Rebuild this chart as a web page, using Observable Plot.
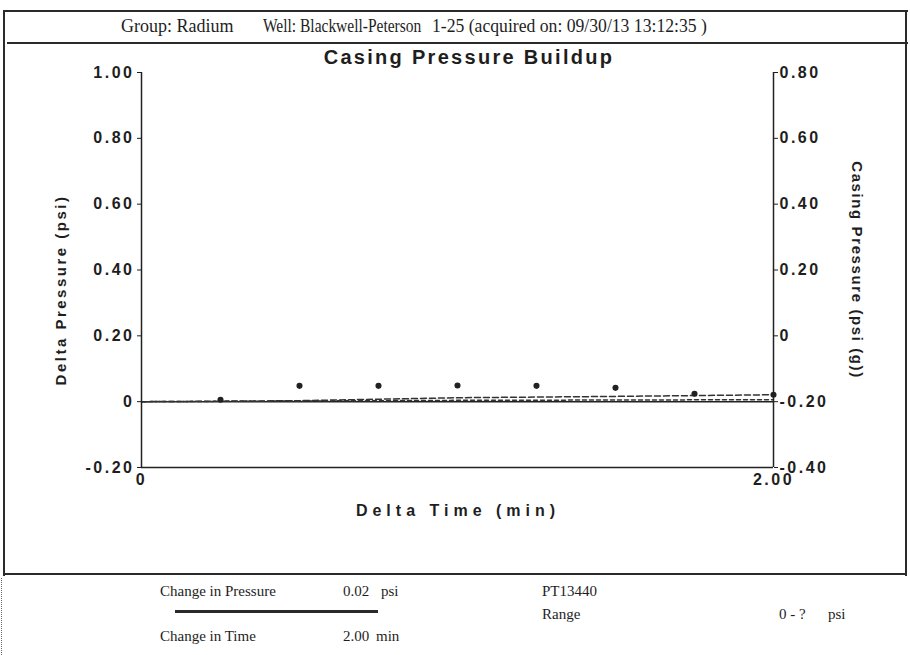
<!DOCTYPE html>
<html><head><meta charset="utf-8">
<script src="https://cdn.jsdelivr.net/npm/d3@7"></script>
<script src="https://cdn.jsdelivr.net/npm/@observablehq/plot@0.6"></script>
<style>
body{margin:0;background:#fff;}
#page{position:relative;width:910px;height:655px;overflow:hidden;background:#fff;color:#1e1e1e;}
.ln{position:absolute;background:#2a2a2a;}
.serif{position:absolute;font-family:"Liberation Serif","Times New Roman",serif;white-space:nowrap;line-height:1;color:#1e1e1e;transform-origin:0 50%;}
.sans{position:absolute;font-family:"Liberation Sans",Arial,sans-serif;font-weight:bold;white-space:nowrap;line-height:1;color:#1e1e1e;}
#chart{position:absolute;left:0;top:0;}
</style></head><body>
<div id="page">
  <div id="chart"></div>
  <!-- frame -->
  <div class="ln" style="left:3px;top:10px;width:905px;height:2px;"></div>
  <div class="ln" style="left:7px;top:42px;width:901px;height:2px;"></div>
  <div class="ln" style="left:3px;top:10px;width:2px;height:566px;"></div>
  <div class="ln" style="left:905px;top:10px;width:2px;height:566px;"></div>
  <div class="ln" style="left:3px;top:573px;width:904px;height:2px;"></div>
  <div style="position:absolute;left:1px;top:578px;height:77px;border-left:1px dotted #666;"></div>
  <!-- header -->
  <div class="serif" style="left:121px;top:17px;font-size:18px;">Group: Radium</div>
  <div class="serif" style="left:263px;top:17px;font-size:18px;transform:scaleX(0.86);">Well: Blackwell-Peterson</div>
  <div class="serif" style="left:432px;top:17px;font-size:18px;transform:scaleX(0.98);">1-25 (acquired on: 09/30/13 13:12:35 )</div>
  <!-- title & labels -->
  <div class="sans" style="left:469px;top:57px;font-size:20px;letter-spacing:2.3px;transform:translate(-50%,-50%);">Casing Pressure Buildup</div>
  <div class="sans" style="left:458px;top:511px;font-size:16px;letter-spacing:5px;transform:translate(-50%,-50%);">Delta Time (min)</div>
  <div class="sans" style="left:60px;top:290px;font-size:15px;letter-spacing:2.5px;transform:translate(-50%,-50%) rotate(-90deg);">Delta Pressure (psi)</div>
  <div class="sans" style="left:857px;top:270px;font-size:15px;letter-spacing:1.6px;transform:translate(-50%,-50%) rotate(90deg);">Casing Pressure (psi (g))</div>
  <!-- footer -->
  <div class="serif" style="left:160px;top:584px;font-size:15px;">Change in Pressure</div>
  <div class="serif" style="left:343px;top:584px;font-size:15px;">0.02</div>
  <div class="serif" style="left:381px;top:584px;font-size:15px;">psi</div>
  <div class="ln" style="left:175px;top:610px;width:203px;height:3px;"></div>
  <div class="serif" style="left:160px;top:629px;font-size:15px;">Change in Time</div>
  <div class="serif" style="left:343px;top:629px;font-size:15px;">2.00</div>
  <div class="serif" style="left:376px;top:629px;font-size:15px;">min</div>
  <div class="serif" style="left:542px;top:584px;font-size:15px;">PT13440</div>
  <div class="serif" style="left:542px;top:607px;font-size:15px;">Range</div>
  <div class="serif" style="left:779px;top:607px;font-size:15px;">0 - ?</div>
  <div class="serif" style="left:828px;top:607px;font-size:15px;">psi</div>
</div>
<script>
const timeTicks = [0, 2];
const leftTicks = [1.0, 0.8, 0.6, 0.4, 0.2, 0, -0.2];
const rightTicks = [0.8, 0.6, 0.4, 0.2, 0, -0.2, -0.4];
const rightOffset = 0.2;
const pointTime = [0.25, 0.5, 0.75, 1.0, 1.25, 1.5, 1.75, 2.0];
const pointDelta = [0.006, 0.048, 0.048, 0.049, 0.048, 0.042, 0.024, 0.021];
const lineTime = [0, 0.5, 1.0, 1.5, 2.0];
const upperDelta = [0.000, 0.003, 0.012, 0.016, 0.021];
const lowerDelta = [0.000, 0.002, 0.004, 0.005, 0.006];

const fmt = v => Math.abs(v) < 1e-9 ? "0" : v.toFixed(2);
const points = pointTime.map((t, i) => ({t, v: pointDelta[i]}));
const lines = lineTime.map((t, i) => ({t, upper: upperDelta[i], lower: lowerDelta[i]}));

const chart = Plot.plot({
  width: 910, height: 655,
  marginLeft: 141, marginRight: 137, marginTop: 72, marginBottom: 188,
  x: {domain: [0, 2]},
  y: {domain: [-0.2, 1.0]},
  style: {background: "transparent", fontFamily: "Liberation Sans, Arial, sans-serif", fontSize: "16px", fontWeight: "bold", color: "#1e1e1e", letterSpacing: "2.5px"},
  marks: [
    Plot.ruleY([0], {stroke: "#222", strokeWidth: 1.5}),
    Plot.line(lines, {x: "t", y: "upper", stroke: "#333", strokeWidth: 1.5, strokeDasharray: "6,3"}),
    Plot.line(lines, {x: "t", y: "lower", stroke: "#333", strokeWidth: 1.5, strokeDasharray: "4,3"}),
    Plot.dot(points, {x: "t", y: "v", r: 2.3, fill: "#222", stroke: "#222"}),
    Plot.ruleX([0, 2], {stroke: "#222", strokeWidth: 1.5}),
    Plot.ruleY([-0.2], {stroke: "#222", strokeWidth: 1.5}),
    Plot.axisY({ticks: leftTicks, anchor: "left", tickSize: 4, tickPadding: 3, tickFormat: fmt, label: null}),
    Plot.axisY({ticks: rightTicks.map(v => v + rightOffset), anchor: "right", tickSize: 4, tickPadding: 2, tickFormat: d => fmt(d - rightOffset), label: null}),
    Plot.axisX({ticks: timeTicks, anchor: "bottom", tickSize: 0, tickPadding: 6, tickFormat: fmt, label: null})
  ]
});
document.getElementById("chart").appendChild(chart);
</script>
</body></html>
